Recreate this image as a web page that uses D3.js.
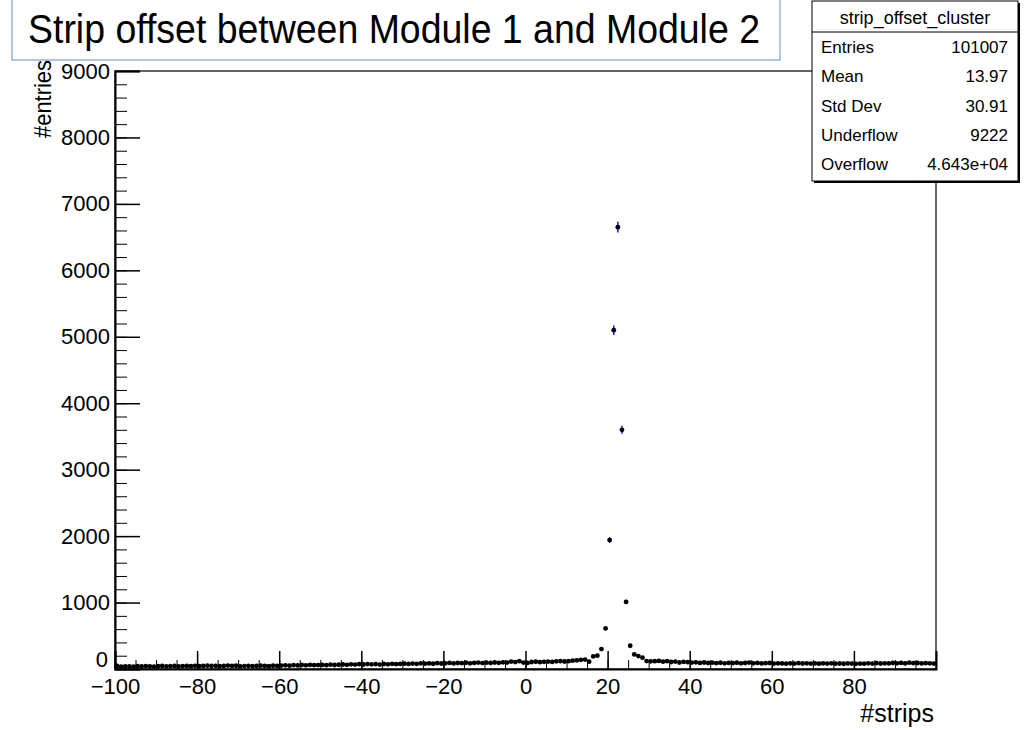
<!DOCTYPE html>
<html>
<head>
<meta charset="utf-8">
<script src="https://cdn.jsdelivr.net/npm/d3@7"></script>
<style>
	body { margin: 0; background: #fff; }
	text { font-family: "Liberation Sans", Arial, sans-serif; fill: #000; }
	.axis path, .axis line { stroke: #000; }
</style>
</head>
<body>
<div id="chart"></div>
<script>
// histogram bins: lower edge of each 1-strip bin
var binLow = d3.range(-100, 100, 1);

// counts per bin
var counts = [
	45, 35, 38, 40, 36, 42, 38, 44, 40, 37,
	42, 45, 40, 43, 47, 41, 44, 46, 42, 48,
	44, 46, 50, 45, 48, 43, 47, 52, 46, 49,
	40, 44, 48, 42, 46, 50, 45, 43, 49, 47,
	52, 55, 50, 58, 54, 60, 56, 62, 57, 59,
	62, 58, 65, 60, 64, 68, 63, 70, 66, 72,
	68, 74, 70, 72, 66, 75, 71, 78, 73, 76,
	80, 76, 82, 78, 85, 80, 84, 79, 88, 83,
	86, 92, 84, 90, 88, 94, 86, 91, 96, 89,
	95, 90, 98, 93, 100, 96, 112, 104, 118, 97,
	92, 105, 110, 102, 108, 112, 106, 115, 118, 113,
	118, 125, 130, 138, 142, 110, 190, 200, 300, 610,
	1940, 5100, 6650, 3600, 1010, 350, 220, 195, 170, 120,
	115, 118, 122, 110, 118, 105, 112, 98, 108, 102,
	96, 100, 92, 98, 90, 95, 88, 94, 86, 92,
	88, 94, 85, 90, 96, 86, 92, 84, 88, 90,
	82, 86, 84, 80, 85, 82, 88, 83, 86, 81,
	84, 80, 86, 82, 85, 80, 83, 79, 84, 82,
	78, 82, 80, 85, 81, 88, 83, 86, 84, 90,
	86, 92, 84, 95, 88, 90, 84, 88, 85, 82
];

// axis ticks
var xMajor = [-100, -80, -60, -40, -20, 0, 20, 40, 60, 80];
var xMinor = d3.range(-100, 100, 5);
var yMajor = [0, 1000, 2000, 3000, 4000, 5000, 6000, 7000, 8000, 9000];
var yMinor = d3.range(0, 9000, 200);

// stats box
var statsTitle = "strip_offset_cluster";
var statsNames = ["Entries", "Mean", "Std Dev", "Underflow", "Overflow"];
var statsValues = ["101007", "13.97", "30.91", "9222", "4.643e+04"];

var titleText = "Strip offset between Module 1 and Module 2";

var W = 1025, H = 730;
var frame = {left: 115, right: 936, top: 71, bottom: 669};

var svg = d3.select("#chart")
	.append("svg")
	.attr("width", W)
	.attr("height", H);

var x = d3.scaleLinear().domain([-100, 100]).range([frame.left, frame.right]);
var y = d3.scaleLinear().domain([0, 9000]).range([frame.bottom, frame.top]);

// frame
svg.append("rect")
	.attr("x", frame.left)
	.attr("y", frame.top)
	.attr("width", frame.right - frame.left)
	.attr("height", frame.bottom - frame.top)
	.attr("fill", "none")
	.attr("stroke", "#000")
	.attr("stroke-width", 1.2);

var minus = function(d) { return d < 0 ? "\u2212" + Math.abs(d) : "" + d; };

// x axis (ticks point inwards like ROOT)
svg.append("g")
	.attr("class", "axis")
	.attr("transform", "translate(0," + frame.bottom + ")")
	.call(d3.axisBottom(x).tickValues(xMinor).tickSize(-9).tickFormat(""))
	.call(function(g) { g.select(".domain").remove(); });

var xAxis = svg.append("g")
	.attr("class", "axis")
	.attr("transform", "translate(0," + frame.bottom + ")")
	.call(d3.axisBottom(x).tickValues(xMajor).tickSize(-18).tickPadding(9).tickFormat(minus));
xAxis.select(".domain").attr("stroke-width", 2);
xAxis.selectAll("line").attr("stroke-width", 1.5);
xAxis.selectAll("text").style("font-size", "22px");

// y axis
svg.append("g")
	.attr("class", "axis")
	.attr("transform", "translate(" + frame.left + ",0)")
	.call(d3.axisLeft(y).tickValues(yMinor).tickSize(-12).tickFormat(""))
	.call(function(g) { g.select(".domain").remove(); });

var yAxis = svg.append("g")
	.attr("class", "axis")
	.attr("transform", "translate(" + frame.left + ",0)")
	.call(d3.axisLeft(y).tickValues(yMajor).tickSize(-25).tickPadding(5).tickFormat(d3.format("d")));
yAxis.select(".domain").attr("stroke-width", 2);
yAxis.selectAll("line").attr("stroke-width", 1.5);
yAxis.selectAll("text").style("font-size", "22px");
yAxis.selectAll(".tick").filter(function(d) { return d === 0; }).select("text")
	.attr("x", -7)
	.attr("dy", "-0.1em");

// axis titles
svg.append("text")
	.attr("transform", "translate(51,60) rotate(-90)")
	.attr("text-anchor", "end")
	.attr("textLength", 78)
	.attr("lengthAdjust", "spacingAndGlyphs")
	.style("font-size", "24px")
	.text("#entries");

svg.append("text")
	.attr("x", frame.right - 2)
	.attr("y", 722)
	.attr("text-anchor", "end")
	.style("font-size", "25px")
	.text("#strips");

// data points with error bars
var pts = svg.append("g");

pts.selectAll("line.ex")
	.data(binLow)
	.enter().append("line")
	.attr("class", "ex")
	.attr("x1", function(d) { return x(d); })
	.attr("x2", function(d) { return x(d + 1); })
	.attr("y1", function(d, i) { return y(counts[i]); })
	.attr("y2", function(d, i) { return y(counts[i]); })
	.attr("stroke", "#0000ff")
	.attr("stroke-width", 1);

pts.selectAll("line.ey")
	.data(binLow)
	.enter().append("line")
	.attr("class", "ey")
	.attr("x1", function(d) { return x(d + 0.5); })
	.attr("x2", function(d) { return x(d + 0.5); })
	.attr("y1", function(d, i) { return y(counts[i] + Math.sqrt(counts[i])); })
	.attr("y2", function(d, i) { return y(counts[i] - Math.sqrt(counts[i])); })
	.attr("stroke", "#0000ff")
	.attr("stroke-width", 1.4);

pts.selectAll("circle")
	.data(binLow)
	.enter().append("circle")
	.attr("cx", function(d) { return x(d + 0.5); })
	.attr("cy", function(d, i) { return y(counts[i]); })
	.attr("r", 2.4)
	.attr("fill", "#000");

// title box
svg.append("rect")
	.attr("x", 12)
	.attr("y", -2)
	.attr("width", 768)
	.attr("height", 62)
	.attr("fill", "#fff")
	.attr("stroke", "#7f9fcf")
	.attr("stroke-width", 1.2);

svg.append("text")
	.attr("x", 28)
	.attr("y", 43)
	.attr("textLength", 732)
	.attr("lengthAdjust", "spacingAndGlyphs")
	.style("font-size", "40px")
	.text(titleText);

// stats box with shadow
var sb = {x: 812, y: 1, w: 206, h: 180};
svg.append("rect")
	.attr("x", sb.x + 2).attr("y", sb.y + 2)
	.attr("width", sb.w).attr("height", sb.h)
	.attr("fill", "#000");
svg.append("rect")
	.attr("x", sb.x).attr("y", sb.y)
	.attr("width", sb.w).attr("height", sb.h)
	.attr("fill", "#fff")
	.attr("stroke", "#000")
	.attr("stroke-width", 1);
svg.append("line")
	.attr("x1", sb.x).attr("x2", sb.x + sb.w)
	.attr("y1", sb.y + 31).attr("y2", sb.y + 31)
	.attr("stroke", "#000");
svg.append("text")
	.attr("x", sb.x + sb.w / 2)
	.attr("y", sb.y + 23)
	.attr("text-anchor", "middle")
	.style("font-size", "18px")
	.text(statsTitle);

var rowY = d3.scaleLinear().domain([0, 4]).range([sb.y + 52, sb.y + 169]);
svg.append("g").selectAll("text")
	.data(statsNames)
	.enter().append("text")
	.attr("x", sb.x + 9)
	.attr("y", function(d, i) { return rowY(i); })
	.style("font-size", "17px")
	.text(function(d) { return d; });
svg.append("g").selectAll("text")
	.data(statsValues)
	.enter().append("text")
	.attr("x", sb.x + sb.w - 10)
	.attr("y", function(d, i) { return rowY(i); })
	.attr("text-anchor", "end")
	.style("font-size", "17px")
	.text(function(d) { return d; });
</script>
</body>
</html>
